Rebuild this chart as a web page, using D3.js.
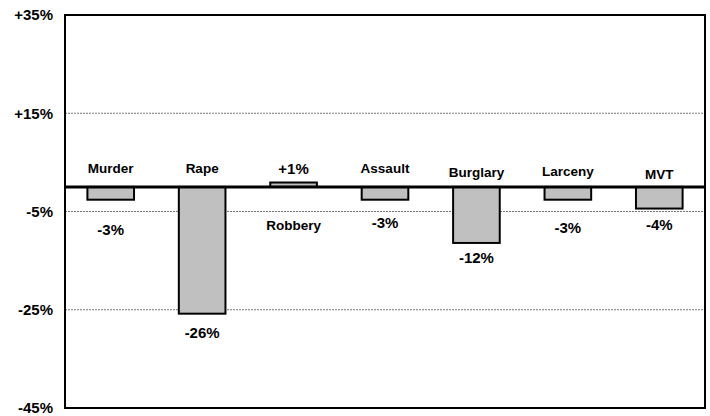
<!DOCTYPE html>
<html>
<head>
<meta charset="utf-8">
<script src="https://cdn.jsdelivr.net/npm/d3@7"></script>
<style>
    body { margin: 0; background: #fff; }
    text { font-family: "Liberation Sans", Arial, sans-serif; font-weight: bold; fill: #000; }
</style>
</head>
<body>
<div id="chart"></div>
<script>
// data
const categories = ["Murder", "Rape", "Robbery", "Assault", "Burglary", "Larceny", "MVT"];
const changes = [-2.6, -25.8, 0.9, -2.6, -11.4, -2.6, -4.4];
const valueLabels = ["-3%", "-26%", "+1%", "-3%", "-12%", "-3%", "-4%"];
// where each label sits, in % on the value axis (as placed in the original)
const valueLabelAt = [-8.7, -29.6, 3.7, -7.2, -14.4, -8.3, -7.7];
const nameLabelAt = [3.7, 3.7, -7.9, 3.7, 2.9, 3.1, 2.5];
const yTicks = [35, 15, -5, -25, -45];
const yTickLabels = ["+35%", "+15%", "-5%", "-25%", "-45%"];

// 图表尺寸
const W = 710, H = 416;
const margin = {top: 15, right: 5, bottom: 8, left: 65};

const svg = d3.select("#chart").append("svg")
    .attr("width", W)
    .attr("height", H);

const x = d3.scaleBand()
    .domain(categories)
    .range([margin.left, W - margin.right])
    .paddingInner(0.49)
    .paddingOuter(0.245);

const y = d3.scaleLinear()
    .domain([-45, 35])
    .range([H - margin.bottom, margin.top]);

// gridlines
svg.append("g")
    .selectAll("line")
    .data(yTicks.filter(d => d !== 35 && d !== -45))
    .enter().append("line")
    .attr("x1", margin.left)
    .attr("x2", W - margin.right)
    .attr("y1", d => y(d))
    .attr("y2", d => y(d))
    .attr("stroke", "#777")
    .attr("stroke-width", 1)
    .attr("stroke-dasharray", "2,1");

// y axis labels
const yAxis = d3.axisLeft(y)
    .tickValues(yTicks)
    .tickFormat((d, i) => yTickLabels[i])
    .tickSize(0)
    .tickPadding(12);

svg.append("g")
    .attr("transform", "translate(" + margin.left + ",0)")
    .call(yAxis)
    .call(g => g.select(".domain").remove())
    .selectAll("text")
    .style("font-size", "15px")
    .style("font-family", "'Liberation Sans', Arial, sans-serif")
    .style("font-weight", "bold");

// bars
svg.append("g")
    .selectAll("rect")
    .data(changes)
    .enter().append("rect")
    .attr("x", (d, i) => x(categories[i]))
    .attr("width", x.bandwidth())
    .attr("y", d => y(Math.max(0, d)))
    .attr("height", d => Math.abs(y(d) - y(0)))
    .attr("fill", "#c0c0c0")
    .attr("stroke", "#000")
    .attr("stroke-width", 2);

// zero line
svg.append("line")
    .attr("x1", margin.left)
    .attr("x2", W - margin.right)
    .attr("y1", y(0))
    .attr("y2", y(0))
    .attr("stroke", "#000")
    .attr("stroke-width", 3);

// frame
svg.append("rect")
    .attr("x", margin.left)
    .attr("y", margin.top)
    .attr("width", W - margin.left - margin.right)
    .attr("height", H - margin.top - margin.bottom)
    .attr("fill", "none")
    .attr("stroke", "#000")
    .attr("stroke-width", 2);

// category names
svg.append("g")
    .selectAll("text")
    .data(categories)
    .enter().append("text")
    .attr("x", d => x(d) + x.bandwidth() / 2)
    .attr("y", (d, i) => y(nameLabelAt[i]))
    .attr("dy", "0.35em")
    .attr("text-anchor", "middle")
    .style("font-size", "13.5px")
    .text(d => d);

// value labels
svg.append("g")
    .selectAll("text")
    .data(valueLabels)
    .enter().append("text")
    .attr("x", (d, i) => x(categories[i]) + x.bandwidth() / 2)
    .attr("y", (d, i) => y(valueLabelAt[i]))
    .attr("dy", "0.35em")
    .attr("text-anchor", "middle")
    .style("font-size", "15px")
    .text(d => d);
</script>
</body>
</html>
